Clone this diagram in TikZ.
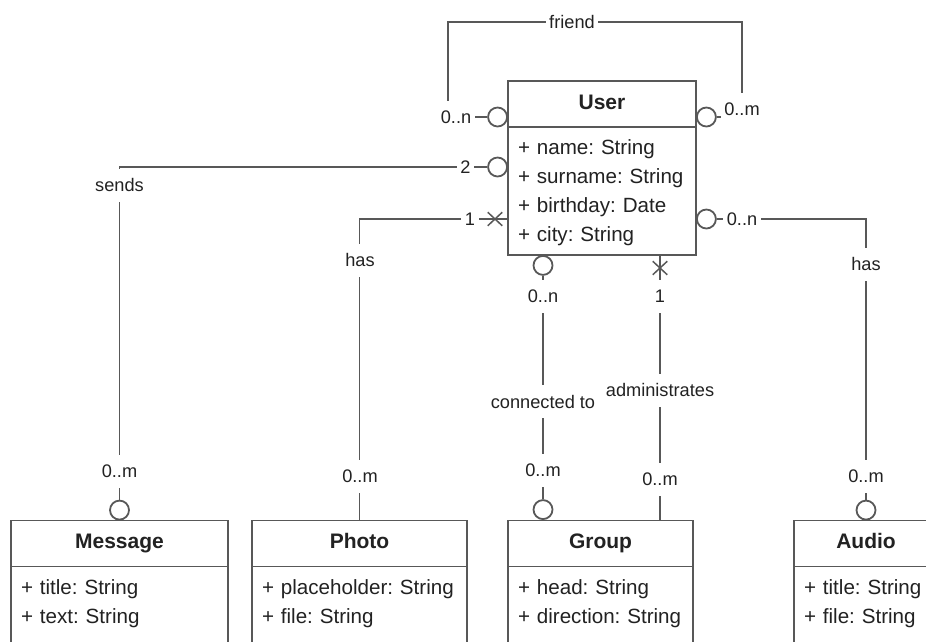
\documentclass[tikz,border=0pt]{standalone}
\usepackage{fontspec}
\setmainfont{Liberation Sans}
\usepackage{xcolor}
\usepackage{tikz}
\usetikzlibrary{positioning,shapes.misc}
\definecolor{umlLine}{RGB}{88,88,88}
\definecolor{umlText}{RGB}{34,34,34}

\begin{document}
\begin{tikzpicture}[x=1pt,y=-1pt,
  classhead/.style={draw=umlLine, line width=1.8pt, fill=white, text=umlText, inner sep=0pt, outer sep=0pt,
    minimum height=46pt, text height=15pt, text depth=5pt, font=\fontsize{21}{25}\selectfont\bfseries},
  classbody/.style={draw=umlLine, line width=1.8pt, fill=white, text=umlText, align=left, outer sep=0pt,
    inner xsep=10pt, inner ysep=12.5pt, text height=15pt, font=\fontsize{20.6}{29}\selectfont\frenchspacing},
  endcirc/.style={circle, draw=umlLine, line width=1.8pt, fill=white, minimum size=19pt, inner sep=0pt},
  onemark/.style={cross out, draw=umlLine, line width=1.5pt, minimum width=13pt, minimum height=12pt, inner sep=0pt},
  assoc/.style={draw=umlLine, line width=1.8pt},
  rolelbl/.style={fill=white, text=umlText, inner xsep=3.5pt, inner ysep=0pt, minimum height=33pt,
    font=\fontsize{18.2}{22}\selectfont}]
\useasboundingbox (0,0) rectangle (926,641);
\clip (0,0) rectangle (926,641);

% classes
\node[classhead, minimum width=188pt] (user) at (602,104) {User};
\node[classbody, text width=168pt, text depth=88pt, below=0pt of user] (userattr)
  {+ name: String\\+ surname: String\\+ birthday: Date\\+ city: String};
\node[classhead, minimum width=217pt] (msg) at (119.5,543.5) {Message};
\node[classbody, text width=197pt, text depth=80pt, below=0pt of msg] (msgattr)
  {+ title: String\\+ text: String};
\node[classhead, minimum width=215pt] (photo) at (359.5,543.5) {Photo};
\node[classbody, text width=195pt, text depth=80pt, below=0pt of photo] (photoattr)
  {+ placeholder: String\\+ file: String};
\node[classhead, minimum width=185pt] (grp) at (600.5,543.5) {Group};
\node[classbody, text width=165pt, text depth=80pt, below=0pt of grp] (grpattr)
  {+ head: String\\+ direction: String};
\node[classhead, minimum width=144pt] (audio) at (866,543.5) {Audio};
\node[classbody, text width=124pt, text depth=80pt, below=0pt of audio] (audioattr)
  {+ title: String\\+ file: String};

% association ends
\node[endcirc, anchor=east] (frL) at (508,117) {};
\node[endcirc, anchor=west] (frR) at (696,117) {};
\node[endcirc, anchor=east] (snd) at (508,167) {};
\node[endcirc, anchor=west] (aud) at (696,219) {};
\node[endcirc, anchor=north] (grpU) at (543,255) {};
\node[endcirc, anchor=south] (msgC) at (msg.north) {};
\node[endcirc, anchor=south] (grpC) at (543,520) {};
\node[endcirc, anchor=south] (audC) at (audio.north) {};
\coordinate (frA) at (448,22);
\coordinate (frB) at (742,22);
\coordinate (uPh) at (508,219);
\coordinate (uAd) at (660,255);

% associations
\draw[assoc] (frL.west) -| (frA) -- (frB) |- (frR.east);
\draw[assoc] (snd.west) -| (msgC.north);
\draw[assoc] (uPh) -| (photo.north);
\draw[assoc] (aud.east) -| (audC.north);
\draw[assoc] (grpU.south) -- (grpC.north);
\draw[assoc] (uAd) -- (uAd |- grp.north);
\node[onemark] (phX) at (495,219) {};
\node[onemark] (adX) at (660,268) {};

% labels
\node[rolelbl] (lFriend) at (572,22) {friend};
\node[rolelbl] (lFrL) at (456,117) {0..n};
\node[rolelbl] (lFrR) at (742,109) {0..m};
\node[rolelbl] (lSnd1) at (465.5,167) {2};
\node[rolelbl] (lSnd) at (119.5,185) {sends};
\node[rolelbl] (lSnd2) at (119.5,471.5) {0..m};
\node[rolelbl] (lPh1) at (470,219) {1};
\node[rolelbl] (lPh) at (360,260) {has};
\node[rolelbl] (lPh2) at (360,476.5) {0..m};
\node[rolelbl] (lAu1) at (742,219) {0..n};
\node[rolelbl] (lAu) at (866,264) {has};
\node[rolelbl] (lAu2) at (866,476) {0..m};
\node[rolelbl] (lCo1) at (543,296.5) {0..n};
\node[rolelbl] (lCo) at (543,401.5) {connected to};
\node[rolelbl] (lCo2) at (543,470.5) {0..m};
\node[rolelbl] (lAd1) at (660,296.5) {1};
\node[rolelbl] (lAd) at (660,390) {administrates};
\node[rolelbl] (lAd2) at (660,479.5) {0..m};
\end{tikzpicture}
\end{document}
